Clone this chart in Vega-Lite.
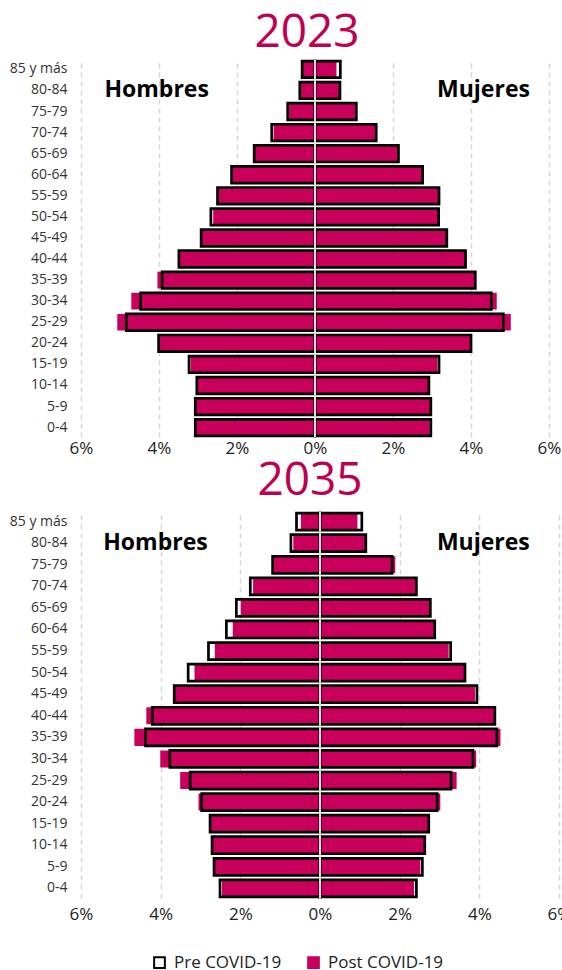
{
  "$schema": "https://vega.github.io/schema/vega-lite/v6.json",
  "padding": {"left": 9, "top": 10, "right": 3, "bottom": 5},
  "background": "white",
  "config": {
    "font": "Open Sans",
    "view": {"stroke": null},
    "axis": {"labelFont": "Open Sans", "labelColor": "#222222"}
  },
  "datasets": {
    "piramide": [
      {"anio": "2023", "edad": "85 y más", "sexo": "Hombres", "pre": 0.33, "post": 0.33},
      {"anio": "2023", "edad": "85 y más", "sexo": "Mujeres", "pre": 0.65, "post": 0.55},
      {"anio": "2023", "edad": "80-84", "sexo": "Hombres", "pre": 0.39, "post": 0.39},
      {"anio": "2023", "edad": "80-84", "sexo": "Mujeres", "pre": 0.64, "post": 0.64},
      {"anio": "2023", "edad": "75-79", "sexo": "Hombres", "pre": 0.70, "post": 0.70},
      {"anio": "2023", "edad": "75-79", "sexo": "Mujeres", "pre": 1.06, "post": 1.06},
      {"anio": "2023", "edad": "70-74", "sexo": "Hombres", "pre": 1.11, "post": 1.06},
      {"anio": "2023", "edad": "70-74", "sexo": "Mujeres", "pre": 1.57, "post": 1.57},
      {"anio": "2023", "edad": "65-69", "sexo": "Hombres", "pre": 1.56, "post": 1.56},
      {"anio": "2023", "edad": "65-69", "sexo": "Mujeres", "pre": 2.14, "post": 2.14},
      {"anio": "2023", "edad": "60-64", "sexo": "Hombres", "pre": 2.14, "post": 2.14},
      {"anio": "2023", "edad": "60-64", "sexo": "Mujeres", "pre": 2.76, "post": 2.76},
      {"anio": "2023", "edad": "55-59", "sexo": "Hombres", "pre": 2.50, "post": 2.50},
      {"anio": "2023", "edad": "55-59", "sexo": "Mujeres", "pre": 3.18, "post": 3.18},
      {"anio": "2023", "edad": "50-54", "sexo": "Hombres", "pre": 2.67, "post": 2.61},
      {"anio": "2023", "edad": "50-54", "sexo": "Mujeres", "pre": 3.17, "post": 3.17},
      {"anio": "2023", "edad": "45-49", "sexo": "Hombres", "pre": 2.92, "post": 2.92},
      {"anio": "2023", "edad": "45-49", "sexo": "Mujeres", "pre": 3.38, "post": 3.38},
      {"anio": "2023", "edad": "40-44", "sexo": "Hombres", "pre": 3.49, "post": 3.49},
      {"anio": "2023", "edad": "40-44", "sexo": "Mujeres", "pre": 3.86, "post": 3.86},
      {"anio": "2023", "edad": "35-39", "sexo": "Hombres", "pre": 3.92, "post": 4.04},
      {"anio": "2023", "edad": "35-39", "sexo": "Mujeres", "pre": 4.11, "post": 4.11},
      {"anio": "2023", "edad": "30-34", "sexo": "Hombres", "pre": 4.47, "post": 4.71},
      {"anio": "2023", "edad": "30-34", "sexo": "Mujeres", "pre": 4.52, "post": 4.66},
      {"anio": "2023", "edad": "25-29", "sexo": "Hombres", "pre": 4.84, "post": 5.07},
      {"anio": "2023", "edad": "25-29", "sexo": "Mujeres", "pre": 4.83, "post": 5.02},
      {"anio": "2023", "edad": "20-24", "sexo": "Hombres", "pre": 4.01, "post": 4.01},
      {"anio": "2023", "edad": "20-24", "sexo": "Mujeres", "pre": 4.00, "post": 4.00},
      {"anio": "2023", "edad": "15-19", "sexo": "Hombres", "pre": 3.23, "post": 3.19},
      {"anio": "2023", "edad": "15-19", "sexo": "Mujeres", "pre": 3.18, "post": 3.14},
      {"anio": "2023", "edad": "10-14", "sexo": "Hombres", "pre": 3.03, "post": 3.03},
      {"anio": "2023", "edad": "10-14", "sexo": "Mujeres", "pre": 2.92, "post": 2.92},
      {"anio": "2023", "edad": "5-9", "sexo": "Hombres", "pre": 3.07, "post": 3.07},
      {"anio": "2023", "edad": "5-9", "sexo": "Mujeres", "pre": 2.97, "post": 2.97},
      {"anio": "2023", "edad": "0-4", "sexo": "Hombres", "pre": 3.07, "post": 3.07},
      {"anio": "2023", "edad": "0-4", "sexo": "Mujeres", "pre": 2.97, "post": 2.94},
      {"anio": "2035", "edad": "85 y más", "sexo": "Hombres", "pre": 0.59, "post": 0.48},
      {"anio": "2035", "edad": "85 y más", "sexo": "Mujeres", "pre": 1.05, "post": 0.94},
      {"anio": "2035", "edad": "80-84", "sexo": "Hombres", "pre": 0.73, "post": 0.67},
      {"anio": "2035", "edad": "80-84", "sexo": "Mujeres", "pre": 1.15, "post": 1.15},
      {"anio": "2035", "edad": "75-79", "sexo": "Hombres", "pre": 1.19, "post": 1.19},
      {"anio": "2035", "edad": "75-79", "sexo": "Mujeres", "pre": 1.81, "post": 1.89},
      {"anio": "2035", "edad": "70-74", "sexo": "Hombres", "pre": 1.75, "post": 1.68},
      {"anio": "2035", "edad": "70-74", "sexo": "Mujeres", "pre": 2.42, "post": 2.42},
      {"anio": "2035", "edad": "65-69", "sexo": "Hombres", "pre": 2.10, "post": 1.99},
      {"anio": "2035", "edad": "65-69", "sexo": "Mujeres", "pre": 2.77, "post": 2.77},
      {"anio": "2035", "edad": "60-64", "sexo": "Hombres", "pre": 2.35, "post": 2.19},
      {"anio": "2035", "edad": "60-64", "sexo": "Mujeres", "pre": 2.88, "post": 2.88},
      {"anio": "2035", "edad": "55-59", "sexo": "Hombres", "pre": 2.80, "post": 2.64},
      {"anio": "2035", "edad": "55-59", "sexo": "Mujeres", "pre": 3.28, "post": 3.23},
      {"anio": "2035", "edad": "50-54", "sexo": "Hombres", "pre": 3.31, "post": 3.15},
      {"anio": "2035", "edad": "50-54", "sexo": "Mujeres", "pre": 3.64, "post": 3.64},
      {"anio": "2035", "edad": "45-49", "sexo": "Hombres", "pre": 3.66, "post": 3.66},
      {"anio": "2035", "edad": "45-49", "sexo": "Mujeres", "pre": 3.94, "post": 3.89},
      {"anio": "2035", "edad": "40-44", "sexo": "Hombres", "pre": 4.21, "post": 4.36},
      {"anio": "2035", "edad": "40-44", "sexo": "Mujeres", "pre": 4.39, "post": 4.39},
      {"anio": "2035", "edad": "35-39", "sexo": "Hombres", "pre": 4.38, "post": 4.66},
      {"anio": "2035", "edad": "35-39", "sexo": "Mujeres", "pre": 4.44, "post": 4.53},
      {"anio": "2035", "edad": "30-34", "sexo": "Hombres", "pre": 3.77, "post": 4.01},
      {"anio": "2035", "edad": "30-34", "sexo": "Mujeres", "pre": 3.84, "post": 3.92},
      {"anio": "2035", "edad": "25-29", "sexo": "Hombres", "pre": 3.26, "post": 3.51},
      {"anio": "2035", "edad": "25-29", "sexo": "Mujeres", "pre": 3.29, "post": 3.43},
      {"anio": "2035", "edad": "20-24", "sexo": "Hombres", "pre": 2.97, "post": 3.05},
      {"anio": "2035", "edad": "20-24", "sexo": "Mujeres", "pre": 2.94, "post": 3.02},
      {"anio": "2035", "edad": "15-19", "sexo": "Hombres", "pre": 2.76, "post": 2.76},
      {"anio": "2035", "edad": "15-19", "sexo": "Mujeres", "pre": 2.73, "post": 2.73},
      {"anio": "2035", "edad": "10-14", "sexo": "Hombres", "pre": 2.71, "post": 2.71},
      {"anio": "2035", "edad": "10-14", "sexo": "Mujeres", "pre": 2.63, "post": 2.63},
      {"anio": "2035", "edad": "5-9", "sexo": "Hombres", "pre": 2.66, "post": 2.66},
      {"anio": "2035", "edad": "5-9", "sexo": "Mujeres", "pre": 2.57, "post": 2.52},
      {"anio": "2035", "edad": "0-4", "sexo": "Hombres", "pre": 2.51, "post": 2.46},
      {"anio": "2035", "edad": "0-4", "sexo": "Mujeres", "pre": 2.42, "post": 2.36}
    ]
  },
  "spacing": 2,
  "resolve": {"scale": {"x": "independent", "y": "independent"}},
  "vconcat": [
    {
      "width": 468,
      "height": 377,
      "title": {"text": "2023", "fontSize": 46, "font": "Open Sans", "fontWeight": "normal", "color": "#BE0050", "anchor": "middle", "offset": 2, "dx": -8},
      "layer": [
        {
          "data": {"name": "piramide"},
          "transform": [
            {"filter": "datum.anio == '2023'"},
            {"calculate": "datum.sexo == 'Hombres' ? -datum.pre : datum.pre", "as": "xpre"},
            {"calculate": "datum.sexo == 'Hombres' ? -datum.post : datum.post", "as": "xpost"}
          ],
          "encoding": {
            "y": {"field": "edad", "type": "nominal",
              "sort": ["85 y más","80-84","75-79","70-74","65-69","60-64","55-59","50-54","45-49","40-44","35-39","30-34","25-29","20-24","15-19","10-14","5-9","0-4"],
              "scale": {"paddingInner": 0.21, "paddingOuter": 0.05},
              "axis": {"title": null, "domain": false, "ticks": false, "labelFontSize": 14, "labelPadding": 14, "labelColor": "#333333"}}
          },
          "layer": [
            {
              "mark": {"type": "bar", "strokeWidth": 0},
              "encoding": {
                "x": {"field": "xpre", "type": "quantitative",
                  "scale": {"domain": [-6, 6]},
                  "axis": {"values": [-6,-4,-2,0,2,4,6], "labelExpr": "abs(datum.value) + '%'", "labelFlush": false, "title": null, "domain": false, "ticks": false, "grid": true, "gridDash": [5,4], "gridColor": "#D6D6D6", "gridWidth": 1.5, "labelFontSize": 17, "labelPadding": 3}},
                "fill": {"datum": "Pre COVID-19", "type": "nominal",
                  "scale": {"domain": ["Pre COVID-19", "Post COVID-19"], "range": ["white", "#C8005C"]},
                  "legend": {"orient": "none", "legendX": 70, "legendY": 894, "direction": "horizontal", "title": null, "symbolType": "square", "symbolSize": 115, "symbolStrokeWidth": 2, "labelFontSize": 17, "labelColor": "#222222", "columnPadding": 22, "labelOffset": 6,
                    "encode": {"symbols": {"update": {"stroke": {"signal": "datum.value === 'Pre COVID-19' ? 'black' : '#C8005C'"}}}}}}
              }
            },
            {
              "mark": {"type": "bar", "strokeWidth": 0},
              "encoding": {
                "x": {"field": "xpost", "type": "quantitative"},
                "fill": {"datum": "Post COVID-19", "type": "nominal"}
              }
            },
            {
              "mark": {"type": "bar", "fillOpacity": 0, "stroke": "black", "strokeWidth": 2.7},
              "encoding": {
                "x": {"field": "xpre", "type": "quantitative"}
              }
            }
          ]
        },
        {
          "data": {"values": [{"linea": "centro"}]},
          "mark": {"type": "rule", "color": "#DDDDDD", "strokeWidth": 2},
          "encoding": {"x": {"datum": 0, "type": "quantitative"}}
        },
        {
          "data": {"values": [{"etiqueta": "Hombres"}]},
          "mark": {"type": "text", "fontSize": 23, "fontWeight": "bold", "color": "black", "align": "center", "baseline": "middle"},
          "encoding": {"x": {"datum": -4.06, "type": "quantitative"}, "y": {"datum": "80-84", "type": "nominal"}, "text": {"field": "etiqueta"}}
        },
        {
          "data": {"values": [{"etiqueta": "Mujeres"}]},
          "mark": {"type": "text", "fontSize": 23, "fontWeight": "bold", "color": "black", "align": "center", "baseline": "middle"},
          "encoding": {"x": {"datum": 4.32, "type": "quantitative"}, "y": {"datum": "80-84", "type": "nominal"}, "text": {"field": "etiqueta"}}
        }
      ]
    },
    {
      "width": 478,
      "height": 386,
      "title": {"text": "2035", "fontSize": 46, "font": "Open Sans", "fontWeight": "normal", "color": "#BE0050", "anchor": "middle", "offset": 6, "dx": -10},
      "layer": [
        {
          "data": {"name": "piramide"},
          "transform": [
            {"filter": "datum.anio == '2035'"},
            {"calculate": "datum.sexo == 'Hombres' ? -datum.pre : datum.pre", "as": "xpre"},
            {"calculate": "datum.sexo == 'Hombres' ? -datum.post : datum.post", "as": "xpost"}
          ],
          "encoding": {
            "y": {"field": "edad", "type": "nominal",
              "sort": ["85 y más","80-84","75-79","70-74","65-69","60-64","55-59","50-54","45-49","40-44","35-39","30-34","25-29","20-24","15-19","10-14","5-9","0-4"],
              "scale": {"paddingInner": 0.21, "paddingOuter": 0.05},
              "axis": {"title": null, "domain": false, "ticks": false, "labelFontSize": 14, "labelPadding": 14, "labelColor": "#333333"}}
          },
          "layer": [
            {
              "mark": {"type": "bar", "strokeWidth": 0},
              "encoding": {
                "x": {"field": "xpre", "type": "quantitative",
                  "scale": {"domain": [-6, 6]},
                  "axis": {"values": [-6,-4,-2,0,2,4,6], "labelExpr": "abs(datum.value) + '%'", "labelFlush": false, "title": null, "domain": false, "ticks": false, "grid": true, "gridDash": [5,4], "gridColor": "#D6D6D6", "gridWidth": 1.5, "labelFontSize": 17, "labelPadding": 8}},
                "fill": {"datum": "Pre COVID-19", "type": "nominal"}
              }
            },
            {
              "mark": {"type": "bar", "strokeWidth": 0},
              "encoding": {
                "x": {"field": "xpost", "type": "quantitative"},
                "fill": {"datum": "Post COVID-19", "type": "nominal"}
              }
            },
            {
              "mark": {"type": "bar", "fillOpacity": 0, "stroke": "black", "strokeWidth": 2.7},
              "encoding": {
                "x": {"field": "xpre", "type": "quantitative"}
              }
            }
          ]
        },
        {
          "data": {"values": [{"linea": "centro"}]},
          "mark": {"type": "rule", "color": "#DDDDDD", "strokeWidth": 2},
          "encoding": {"x": {"datum": 0, "type": "quantitative"}}
        },
        {
          "data": {"values": [{"etiqueta": "Hombres"}]},
          "mark": {"type": "text", "fontSize": 23, "fontWeight": "bold", "color": "black", "align": "center", "baseline": "middle"},
          "encoding": {"x": {"datum": -4.13, "type": "quantitative"}, "y": {"datum": "80-84", "type": "nominal"}, "text": {"field": "etiqueta"}}
        },
        {
          "data": {"values": [{"etiqueta": "Mujeres"}]},
          "mark": {"type": "text", "fontSize": 23, "fontWeight": "bold", "color": "black", "align": "center", "baseline": "middle"},
          "encoding": {"x": {"datum": 4.1, "type": "quantitative"}, "y": {"datum": "80-84", "type": "nominal"}, "text": {"field": "etiqueta"}}
        }
      ]
    }
  ]
}
